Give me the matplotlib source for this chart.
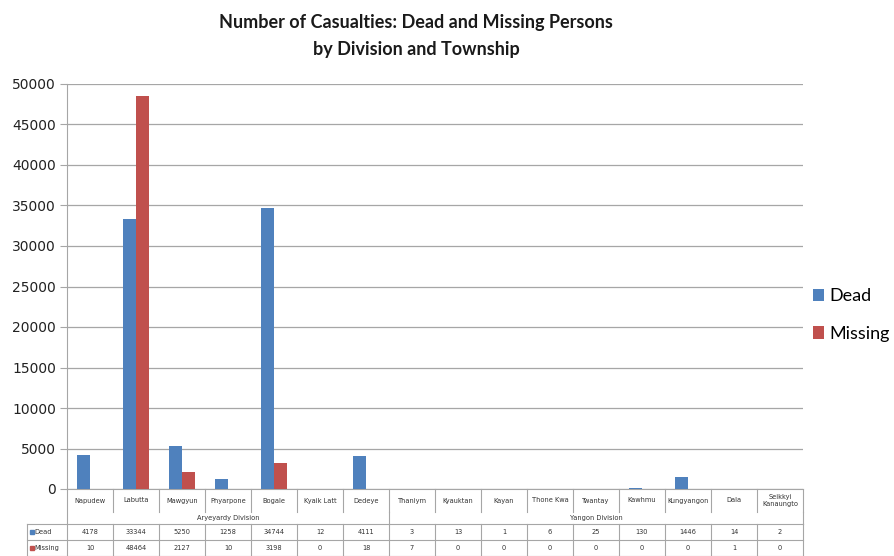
import matplotlib
matplotlib.use("Agg")
import matplotlib.pyplot as plt
import matplotlib.transforms as mtransforms
import numpy as np

# datos
townships = ["Napudew", "Labutta", "Mawgyun", "Phyarpone", "Bogale", "Kyaik Latt",
             "Dedeye", "Thaniym", "Kyauktan", "Kayan", "Thone Kwa", "Twantay",
             "Kawhmu", "Kungyangon", "Dala", "Seikkyi\nKanaungto"]
divisions = ["Aryeyardy Division", "Yangon Division"]
division_sizes = [7, 9]
dead = [4178, 33344, 5250, 1258, 34744, 12, 4111, 3, 13, 1, 6, 25, 130, 1446, 14, 2]
missing = [10, 48464, 2127, 10, 3198, 0, 18, 7, 0, 0, 0, 0, 0, 0, 1, 0]
yticks = list(range(0, 50001, 5000))

azul = "#4F81BD"
rojo = "#C0504D"
linea = "#A6A6A6"

W, H = 894, 556
fig = plt.figure(figsize=(W / 100, H / 100), dpi=100)
x0, x1, ytop, ybot = 67, 803, 84, 489
ax = fig.add_axes([x0 / W, 1 - ybot / H, (x1 - x0) / W, (ybot - ytop) / H])

n = len(townships)
x = np.arange(n)
ancho = 0.29
ax.bar(x - ancho / 2, dead, ancho, color=azul, label="Dead", zorder=3)
ax.bar(x + ancho / 2, missing, ancho, color=rojo, label="Missing", zorder=3)

ax.set_xlim(-0.5, n - 0.5)
ax.set_ylim(0, 50000)
ax.set_yticks(yticks)
ax.set_yticklabels([str(v) for v in yticks], fontsize=10, color="#222222")
ax.yaxis.grid(True, color=linea, linewidth=0.9, zorder=0)
ax.set_xticks([])
ax.tick_params(axis="y", length=5, color=linea, pad=3)
for s in ["top", "right"]:
    ax.spines[s].set_visible(False)
ax.spines["left"].set_color(linea)
ax.spines["bottom"].set_color(linea)
ax.spines["left"].set_bounds(0, 50000)

# tabla de datos debajo del eje
trans = mtransforms.blended_transform_factory(ax.transData, ax.transAxes)
alto = ybot - ytop
def fy(p):
    return (ybot - p) / alto

y_cat, y_div, y_d, y_m, y_fin = fy(489), fy(512), fy(524), fy(540), fy(556)
izq = -0.5 - (x0 - 27) / 46.0
kw = dict(transform=trans, clip_on=False, color=linea, linewidth=0.8)

# lineas verticales
ax.plot([-0.5, -0.5], [y_cat, y_fin], **kw)
for i in range(1, n + 1):
    ax.plot([i - 0.5, i - 0.5], [y_cat, y_div], **kw)
    ax.plot([i - 0.5, i - 0.5], [y_d, y_fin], **kw)
frontera = -0.5
for k in division_sizes:
    frontera += k
    ax.plot([frontera, frontera], [y_div, y_d], **kw)
ax.plot([izq, izq], [y_d, y_fin], **kw)
# lineas horizontales
for yy in [y_d, y_m, y_fin]:
    ax.plot([izq, n - 0.5], [yy, yy], **kw)

tk = dict(transform=trans, clip_on=False, ha="center", va="center",
          fontsize=4.8, color="#333333")
for i, t in enumerate(townships):
    ax.text(i, (y_cat + y_div) / 2, t, linespacing=1.3, **tk)
    ax.text(i, (y_d + y_m) / 2, str(dead[i]), **tk)
    ax.text(i, (y_m + y_fin) / 2, str(missing[i]), **tk)
inicio = -0.5
for nombre, k in zip(divisions, division_sizes):
    ax.text(inicio + k / 2, (y_div + y_d) / 2, nombre, **tk)
    inicio += k

# etiquetas de filas con marcador
for etiqueta, col, y_a, y_b in [("Dead", azul, y_d, y_m), ("Missing", rojo, y_m, y_fin)]:
    yc = (y_a + y_b) / 2
    ax.plot([izq + 0.1], [yc], marker="s", markersize=2.5, color=col,
            transform=trans, clip_on=False, linestyle="none")
    ax.text(izq + 0.17, yc, etiqueta, transform=trans, clip_on=False,
            ha="left", va="center", fontsize=4.8, color="#333333")

# leyenda
leg = fig.legend(loc="center left", bbox_to_anchor=(800 / W, 1 - 315 / H),
                 frameon=False, prop={"family": "Lato", "size": 13},
                 handlelength=0.65, handleheight=0.65,
                 handletextpad=0.25, labelspacing=1.2, borderpad=0.2)

fig.text(416 / W, 1 - 36 / H, "Number of Casualties: Dead and Missing Persons\nby Division and Township",
         ha="center", va="center", fontsize=13, fontweight="bold",
         family="Lato", linespacing=1.7, color="#1a1a1a")

fig.savefig("out.png", dpi=100)
